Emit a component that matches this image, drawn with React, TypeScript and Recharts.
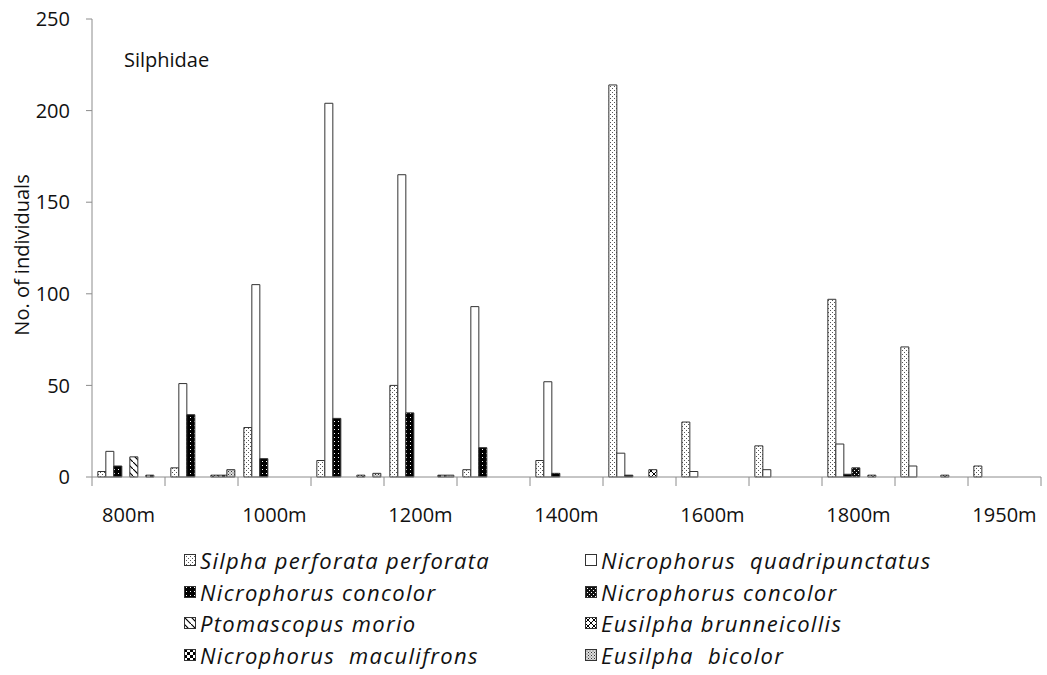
import React from 'react';
import { BarChart, Bar, XAxis, YAxis, Legend, Customized } from 'recharts';

// ---------- data ----------
const categories = ['800m', '900m', '1000m', '1100m', '1200m', '1300m', '1400m', '1500m', '1600m', '1700m', '1800m', '1900m', '1950m'];
const tickLabels = ['800m', '', '1000m', '', '1200m', '', '1400m', '', '1600m', '', '1800m', '', '1950m'];
const yTicks = [0, 50, 100, 150, 200, 250];

const seriesNames = [
  'Silpha perforata perforata',
  'Nicrophorus  quadripunctatus',
  'Nicrophorus concolor',
  'Nicrophorus concolor',
  'Ptomascopus morio',
  'Eusilpha brunneicollis',
  'Nicrophorus  maculifrons',
  'Eusilpha  bicolor',
];

const silphaPerforata = [3, 5, 27, 9, 50, 4, 9, 214, 30, 17, 97, 71, 6];
const nQuadripunctatus = [14, 51, 105, 204, 165, 93, 52, 13, 3, 4, 18, 6, 0];
const nConcolorA = [6, 34, 10, 32, 35, 16, 2, 1, 0, 0, 1.5, 0, 0];
const nConcolorB = [0, 0, 0, 0, 0, 0, 0, 0, 0, 0, 5, 0, 0];
const ptomascopusMorio = [11, 0, 0, 0, 0, 0, 0, 0, 0, 0, 0, 0, 0];
const eBrunneicollis = [0, 1, 0, 1, 0, 0, 0, 4, 0, 0, 1, 1, 0];
const nMaculifrons = [1, 1, 0, 0, 1, 0, 0, 0, 0, 0, 0, 0, 0];
const eBicolor = [0, 4, 0, 2, 1, 0, 0, 0, 0, 0, 0, 0, 0];

const seriesValues = [
  silphaPerforata,
  nQuadripunctatus,
  nConcolorA,
  nConcolorB,
  ptomascopusMorio,
  eBrunneicollis,
  nMaculifrons,
  eBicolor,
];

const seriesKeys = ['s1', 's2', 's3', 's4', 's5', 's6', 's7', 's8'];
const patternIds = ['p1', 'p2', 'p3', 'p4', 'p5', 'p6', 'p7', 'p8'];

const data = categories.map((c, i) => {
  const row: Record<string, number | string> = { name: c };
  seriesKeys.forEach((k, s) => {
    row[k] = seriesValues[s][i];
  });
  return row;
});

// ---------- styling ----------
const FONT = '"Open Sans", "Noto Sans", sans-serif';
const AXIS_GRAY = '#8c8c8c';
const BAR_STROKE = '#333';

const Patterns = () => (
  <svg width={0} height={0} style={{ position: 'absolute' }}>
    <defs>
      <pattern id="p1" width={4} height={4} patternUnits="userSpaceOnUse">
        <rect width={4} height={4} fill="#fff" />
        <rect x={0} y={0} width={1} height={1} fill="#555" />
        <rect x={2} y={2} width={1} height={1} fill="#555" />
      </pattern>
      <pattern id="p2" width={4} height={4} patternUnits="userSpaceOnUse">
        <rect width={4} height={4} fill="#fff" />
      </pattern>
      <pattern id="p3" width={4} height={4} patternUnits="userSpaceOnUse">
        <rect width={4} height={4} fill="#000" />
        <rect x={2} y={1} width={1} height={1} fill="#fff" />
      </pattern>
      <pattern id="p4" width={4} height={4} patternUnits="userSpaceOnUse">
        <rect width={4} height={4} fill="#111" />
        <rect x={0} y={0} width={1} height={1} fill="#fff" />
        <rect x={2} y={2} width={1} height={1} fill="#fff" />
      </pattern>
      <pattern id="p5" width={7} height={7} patternUnits="userSpaceOnUse">
        <rect width={7} height={7} fill="#fff" />
        <path d="M-1,-1 L8,8" stroke="#000" strokeWidth={1.2} />
      </pattern>
      <pattern id="p6" width={6} height={6} patternUnits="userSpaceOnUse">
        <rect width={6} height={6} fill="#fff" />
        <path d="M-1,-1 L7,7 M7,-1 L-1,7" stroke="#000" strokeWidth={1} />
      </pattern>
      <pattern id="p7" width={6} height={6} patternUnits="userSpaceOnUse">
        <rect width={6} height={6} fill="#fff" />
        <rect x={0} y={0} width={3} height={3} fill="#000" />
        <rect x={3} y={3} width={3} height={3} fill="#000" />
      </pattern>
      <pattern id="p8" width={3} height={3} patternUnits="userSpaceOnUse">
        <rect width={3} height={3} fill="#ddd" />
        <rect x={0} y={0} width={1} height={1} fill="#333" />
        <rect x={1.5} y={1.5} width={1} height={1} fill="#555" />
      </pattern>
    </defs>
  </svg>
);

const XTick = (props: any) => {
  const { x, y, payload, index } = props;
  const half = payload && typeof payload.offset === 'number' && payload.offset > 0 ? payload.offset : 36.5;
  const idx = typeof index === 'number' ? index : payload.index;
  const label = tickLabels[idx] ?? '';
  return (
    <g>
      <line x1={x - half} x2={x - half} y1={y} y2={y + 9} stroke={AXIS_GRAY} strokeWidth={1} />
      {idx === categories.length - 1 && (
        <line x1={x + half} x2={x + half} y1={y} y2={y + 9} stroke={AXIS_GRAY} strokeWidth={1} />
      )}
      {label && (
        <text x={x} y={y + 45} textAnchor="middle" fontFamily={FONT} fontSize={20} fill="#111">
          {label}
        </text>
      )}
    </g>
  );
};

const Annotations = () => (
  <g>
    <text x={124} y={67} fontFamily={FONT} fontSize={20} fill="#111">
      Silphidae
    </text>
    <text
      x={21}
      y={255}
      transform="rotate(-90, 21, 255)"
      textAnchor="middle"
      dominantBaseline="central"
      fontFamily={FONT}
      fontSize={20}
      fill="#111"
    >
      No. of individuals
    </text>
  </g>
);

const LegendContent = () => {
  const colX = [184, 585];
  const rowY = [30, 62, 93, 125];
  return (
    <div style={{ position: 'relative', width: 1047, height: 140 }}>
      {seriesNames.map((name, i) => {
        const col = i % 2;
        const row = Math.floor(i / 2);
        return (
          <div
            key={i}
            style={{
              position: 'absolute',
              left: colX[col],
              top: rowY[row] - 15,
              height: 30,
              display: 'flex',
              alignItems: 'center',
              whiteSpace: 'pre',
              fontFamily: FONT,
              fontStyle: 'italic',
              fontSize: 22,
              letterSpacing: 1.3,
              color: '#111',
            }}
          >
            <svg width={13} height={13} style={{ marginRight: 3 }}>
              <rect x={0.5} y={0.5} width={11} height={11} fill={`url(#${patternIds[i]})`} stroke={BAR_STROKE} strokeWidth={1} />
            </svg>
            <span>{name}</span>
          </div>
        );
      })}
    </div>
  );
};

export default function App() {
  return (
    <div style={{ position: 'absolute', left: 0, top: 0, width: 1047, height: 675, background: '#fff' }}>
      <Patterns />
      <BarChart
        width={1047}
        height={675}
        data={data}
        margin={{ top: 19, right: 6, left: 0, bottom: 158 }}
        barCategoryGap="8%"
        barGap={0}
      >
        <XAxis
          dataKey="name"
          interval={0}
          height={40}
          axisLine={{ stroke: AXIS_GRAY }}
          tickLine={false}
          tickSize={0}
          tickMargin={0}
          tick={<XTick />}
        />
        <YAxis
          width={92}
          domain={[0, 250]}
          ticks={yTicks}
          interval={0}
          axisLine={{ stroke: AXIS_GRAY }}
          tickLine={{ stroke: AXIS_GRAY }}
          tickSize={6}
          tickMargin={16}
          tick={{ fontFamily: FONT, fontSize: 20, fill: '#111' }}
        />
        {seriesKeys.map((k, i) => (
          <Bar
            key={k}
            dataKey={k}
            name={seriesNames[i]}
            fill={`url(#${patternIds[i]})`}
            stroke={BAR_STROKE}
            strokeWidth={1}
            isAnimationActive={false}
          />
        ))}
        <Legend
          layout="horizontal"
          verticalAlign="middle"
          align="center"
          wrapperStyle={{ top: 530, left: 0, width: 1047 }}
          content={<LegendContent />}
        />
        <Customized component={Annotations} />
      </BarChart>
    </div>
  );
}
